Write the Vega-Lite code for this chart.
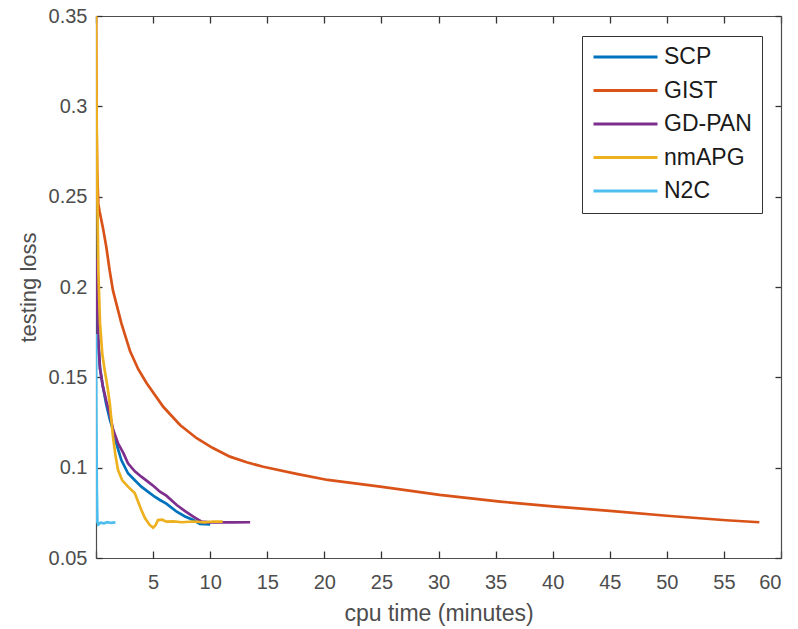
{
  "$schema": "https://vega.github.io/schema/vega-lite/v6.json",
  "width": 685,
  "height": 542,
  "autosize": {"type": "none"},
  "padding": {"left": 96, "top": 16, "right": 17, "bottom": 71},
  "background": "white",
  "config": {
    "view": {"stroke": null},
    "font": "Liberation Sans",
    "axis": {
      "grid": false,
      "zindex": 1,
      "domainColor": "#4d4d4d",
      "domainWidth": 1.2,
      "tickColor": "#333333",
      "tickWidth": 1.3,
      "labelColor": "#4d4d4d",
      "titleColor": "#4d4d4d",
      "labelFont": "Liberation Sans",
      "titleFont": "Liberation Sans",
      "labelFontSize": 20,
      "titleFontSize": 22,
      "titleFontWeight": "normal"
    },
    "legend": {
      "labelFont": "Liberation Sans",
      "labelFontSize": 23,
      "labelColor": "#1a1a1a"
    }
  },
  "data": {
    "values": [
      {"method": "SCP", "t": 0, "loss": 0.216},
      {"method": "SCP", "t": 0.1, "loss": 0.19},
      {"method": "SCP", "t": 0.2, "loss": 0.17},
      {"method": "SCP", "t": 0.35, "loss": 0.155},
      {"method": "SCP", "t": 0.6, "loss": 0.145},
      {"method": "SCP", "t": 0.9, "loss": 0.135},
      {"method": "SCP", "t": 1.2, "loss": 0.127},
      {"method": "SCP", "t": 1.49, "loss": 0.1208},
      {"method": "SCP", "t": 1.8, "loss": 0.113},
      {"method": "SCP", "t": 2.22, "loss": 0.1042},
      {"method": "SCP", "t": 2.8, "loss": 0.0969},
      {"method": "SCP", "t": 3.4, "loss": 0.093},
      {"method": "SCP", "t": 3.97, "loss": 0.0895},
      {"method": "SCP", "t": 4.6, "loss": 0.0865},
      {"method": "SCP", "t": 5.14, "loss": 0.0839},
      {"method": "SCP", "t": 5.6, "loss": 0.0821},
      {"method": "SCP", "t": 6.16, "loss": 0.0801},
      {"method": "SCP", "t": 7.07, "loss": 0.0756},
      {"method": "SCP", "t": 7.8, "loss": 0.073},
      {"method": "SCP", "t": 8.52, "loss": 0.071},
      {"method": "SCP", "t": 9.1, "loss": 0.0688},
      {"method": "SCP", "t": 10.0, "loss": 0.0686},

      {"method": "GIST", "t": 0, "loss": 0.35},
      {"method": "GIST", "t": 0.02, "loss": 0.32},
      {"method": "GIST", "t": 0.05, "loss": 0.29},
      {"method": "GIST", "t": 0.1, "loss": 0.265},
      {"method": "GIST", "t": 0.2, "loss": 0.246},
      {"method": "GIST", "t": 0.32, "loss": 0.2417},
      {"method": "GIST", "t": 0.6, "loss": 0.233},
      {"method": "GIST", "t": 0.9, "loss": 0.2223},
      {"method": "GIST", "t": 1.2, "loss": 0.209},
      {"method": "GIST", "t": 1.49, "loss": 0.198},
      {"method": "GIST", "t": 2.22, "loss": 0.18},
      {"method": "GIST", "t": 2.98, "loss": 0.1645},
      {"method": "GIST", "t": 3.7, "loss": 0.1545},
      {"method": "GIST", "t": 4.44, "loss": 0.1467},
      {"method": "GIST", "t": 5.89, "loss": 0.1337},
      {"method": "GIST", "t": 7.36, "loss": 0.1236},
      {"method": "GIST", "t": 8.82, "loss": 0.1163},
      {"method": "GIST", "t": 10.2, "loss": 0.111},
      {"method": "GIST", "t": 11.73, "loss": 0.1061},
      {"method": "GIST", "t": 13.2, "loss": 0.103},
      {"method": "GIST", "t": 14.65, "loss": 0.1005},
      {"method": "GIST", "t": 17.57, "loss": 0.0966},
      {"method": "GIST", "t": 20.3, "loss": 0.0932},
      {"method": "GIST", "t": 24.9, "loss": 0.0895},
      {"method": "GIST", "t": 30.1, "loss": 0.0849},
      {"method": "GIST", "t": 35.4, "loss": 0.0812},
      {"method": "GIST", "t": 40.0, "loss": 0.0786},
      {"method": "GIST", "t": 45.0, "loss": 0.0761},
      {"method": "GIST", "t": 50.0, "loss": 0.0734},
      {"method": "GIST", "t": 55.2, "loss": 0.0709},
      {"method": "GIST", "t": 58.1, "loss": 0.0698},

      {"method": "GD-PAN", "t": 0, "loss": 0.216},
      {"method": "GD-PAN", "t": 0.1, "loss": 0.19},
      {"method": "GD-PAN", "t": 0.2, "loss": 0.17},
      {"method": "GD-PAN", "t": 0.35, "loss": 0.155},
      {"method": "GD-PAN", "t": 0.6, "loss": 0.145},
      {"method": "GD-PAN", "t": 0.9, "loss": 0.137},
      {"method": "GD-PAN", "t": 1.2, "loss": 0.13},
      {"method": "GD-PAN", "t": 1.5, "loss": 0.121},
      {"method": "GD-PAN", "t": 1.93, "loss": 0.1135},
      {"method": "GD-PAN", "t": 2.4, "loss": 0.108},
      {"method": "GD-PAN", "t": 2.8, "loss": 0.1024},
      {"method": "GD-PAN", "t": 3.4, "loss": 0.098},
      {"method": "GD-PAN", "t": 3.97, "loss": 0.095},
      {"method": "GD-PAN", "t": 4.6, "loss": 0.092},
      {"method": "GD-PAN", "t": 5.14, "loss": 0.0893},
      {"method": "GD-PAN", "t": 5.6, "loss": 0.0867},
      {"method": "GD-PAN", "t": 6.16, "loss": 0.0845},
      {"method": "GD-PAN", "t": 7.07, "loss": 0.0793},
      {"method": "GD-PAN", "t": 7.8, "loss": 0.076},
      {"method": "GD-PAN", "t": 8.52, "loss": 0.0729},
      {"method": "GD-PAN", "t": 9.25, "loss": 0.0701},
      {"method": "GD-PAN", "t": 10.0, "loss": 0.0697},
      {"method": "GD-PAN", "t": 11.0, "loss": 0.0698},
      {"method": "GD-PAN", "t": 12.0, "loss": 0.0697},
      {"method": "GD-PAN", "t": 13.5, "loss": 0.0698},

      {"method": "nmAPG", "t": 0, "loss": 0.35},
      {"method": "nmAPG", "t": 0.05, "loss": 0.3},
      {"method": "nmAPG", "t": 0.12, "loss": 0.25},
      {"method": "nmAPG", "t": 0.2, "loss": 0.21},
      {"method": "nmAPG", "t": 0.35, "loss": 0.18},
      {"method": "nmAPG", "t": 0.55, "loss": 0.163},
      {"method": "nmAPG", "t": 0.76, "loss": 0.154},
      {"method": "nmAPG", "t": 1.0, "loss": 0.145},
      {"method": "nmAPG", "t": 1.2, "loss": 0.136},
      {"method": "nmAPG", "t": 1.49, "loss": 0.117},
      {"method": "nmAPG", "t": 1.7, "loss": 0.107},
      {"method": "nmAPG", "t": 1.93, "loss": 0.0987},
      {"method": "nmAPG", "t": 2.3, "loss": 0.093},
      {"method": "nmAPG", "t": 2.8, "loss": 0.0895},
      {"method": "nmAPG", "t": 3.39, "loss": 0.086},
      {"method": "nmAPG", "t": 3.7, "loss": 0.081},
      {"method": "nmAPG", "t": 3.97, "loss": 0.0766},
      {"method": "nmAPG", "t": 4.3, "loss": 0.072},
      {"method": "nmAPG", "t": 4.7, "loss": 0.0683},
      {"method": "nmAPG", "t": 5.0, "loss": 0.0668},
      {"method": "nmAPG", "t": 5.2, "loss": 0.068},
      {"method": "nmAPG", "t": 5.43, "loss": 0.071},
      {"method": "nmAPG", "t": 5.8, "loss": 0.0712},
      {"method": "nmAPG", "t": 6.16, "loss": 0.0701},
      {"method": "nmAPG", "t": 6.8, "loss": 0.0703},
      {"method": "nmAPG", "t": 7.5, "loss": 0.0698},
      {"method": "nmAPG", "t": 8.5, "loss": 0.0702},
      {"method": "nmAPG", "t": 9.5, "loss": 0.0697},
      {"method": "nmAPG", "t": 10.3, "loss": 0.0702},
      {"method": "nmAPG", "t": 11.1, "loss": 0.0701},

      {"method": "N2C", "t": 0, "loss": 0.174},
      {"method": "N2C", "t": 0.03, "loss": 0.13},
      {"method": "N2C", "t": 0.07, "loss": 0.09},
      {"method": "N2C", "t": 0.12, "loss": 0.07},
      {"method": "N2C", "t": 0.2, "loss": 0.0685},
      {"method": "N2C", "t": 0.4, "loss": 0.0695},
      {"method": "N2C", "t": 0.7, "loss": 0.0692},
      {"method": "N2C", "t": 1.0, "loss": 0.0698},
      {"method": "N2C", "t": 1.3, "loss": 0.0694},
      {"method": "N2C", "t": 1.7, "loss": 0.0697}
    ]
  },
  "layer": [
    {
      "mark": {"type": "line", "strokeWidth": 2.7, "clip": true},
      "encoding": {
        "x": {
          "field": "t",
          "type": "quantitative",
          "scale": {"domain": [0, 60], "nice": false, "zero": false},
          "axis": {
            "orient": "bottom",
            "title": "cpu time (minutes)",
            "titleFontSize": 23,
            "values": [5, 10, 15, 20, 25, 30, 35, 40, 45, 50, 55, 60],
            "ticks": false,
            "labelPadding": 14,
            "titlePadding": 10
          }
        },
        "y": {
          "field": "loss",
          "type": "quantitative",
          "scale": {"domain": [0.05, 0.35], "nice": false, "zero": false},
          "axis": {
            "orient": "left",
            "title": "testing loss",
            "values": [0.05, 0.1, 0.15, 0.2, 0.25, 0.3, 0.35],
            "format": "~g",
            "ticks": false,
            "labelPadding": 9,
            "titlePadding": 8
          }
        },
        "color": {
          "field": "method",
          "type": "nominal",
          "scale": {
            "domain": ["SCP", "GIST", "GD-PAN", "nmAPG", "N2C"],
            "range": ["#0072BD", "#D95319", "#7E2F8E", "#EDB120", "#4DBEEE"]
          },
          "legend": {
            "title": null,
            "orient": "none",
            "legendX": 486,
            "legendY": 20,
            "direction": "vertical",
            "symbolType": "stroke",
            "symbolSize": 4096,
            "symbolStrokeWidth": 3,
            "clipHeight": 22,
            "labelOffset": 5,
            "rowPadding": 10.5,
            "padding": 10,
            "strokeColor": "#333333",
            "fillColor": "white",
            "cornerRadius": 0
          }
        },
        "order": {"value": null}
      }
    },
    {
      "mark": {"type": "point", "opacity": 0},
      "encoding": {
        "x": {
          "field": "t",
          "type": "quantitative",
          "axis": {
            "orient": "top",
            "labels": false,
            "title": null,
            "values": [0, 5, 10, 15, 20, 25, 30, 35, 40, 45, 50, 55, 60],
            "tickSize": -7
          }
        },
        "y": {
          "field": "loss",
          "type": "quantitative",
          "axis": {
            "orient": "right",
            "labels": false,
            "title": null,
            "values": [0.05, 0.1, 0.15, 0.2, 0.25, 0.3, 0.35],
            "tickSize": -6
          }
        }
      }
    },
    {
      "mark": {"type": "point", "opacity": 0},
      "encoding": {
        "x": {
          "field": "t",
          "type": "quantitative",
          "axis": {
            "orient": "top",
            "offset": -542,
            "labels": false,
            "title": null,
            "domain": false,
            "values": [0, 5, 10, 15, 20, 25, 30, 35, 40, 45, 50, 55, 60],
            "tickSize": 7
          }
        },
        "y": {
          "field": "loss",
          "type": "quantitative",
          "axis": {
            "orient": "right",
            "offset": -685,
            "labels": false,
            "title": null,
            "domain": false,
            "values": [0.05, 0.1, 0.15, 0.2, 0.25, 0.3, 0.35],
            "tickSize": 6
          }
        }
      }
    }
  ],
  "resolve": {"axis": {"x": "independent", "y": "independent"}}
}
